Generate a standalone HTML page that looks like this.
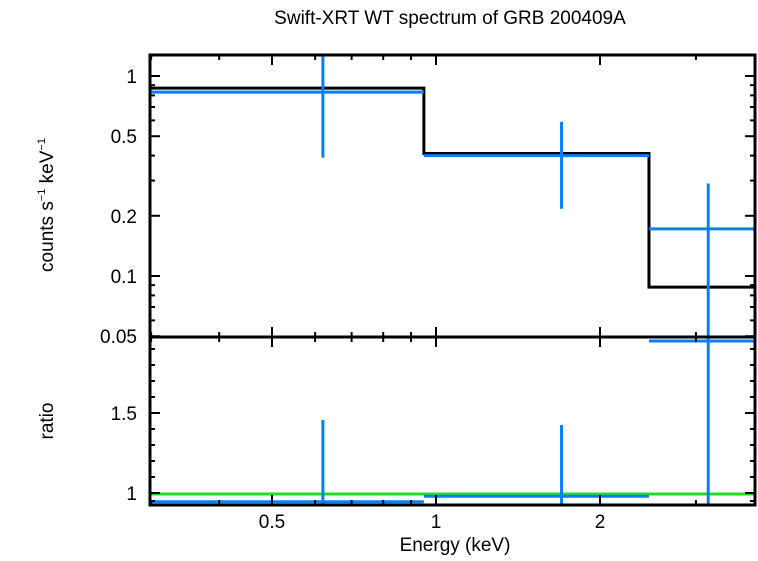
<!DOCTYPE html>
<html><head><meta charset="utf-8"><style>
body{margin:0;background:#fff;}
svg text{font-family:"Liberation Sans",sans-serif;}
</style></head><body>
<svg id="c" width="758" height="556" xmlns="http://www.w3.org/2000/svg"></svg>
<script>
const binLo=[0.298,0.95,2.46];
const binHi=[0.95,2.46,3.85];
const ptE=[0.62,1.70,3.16];
const dataVal=[0.83,0.40,0.172];
const errLo=[0.39,0.217,0.04];
const errHi=[1.5,0.59,0.29];
const modelVal=[0.87,0.41,0.088];
const ratioVal=[0.945,0.98,1.95];
const ratioLo=[0.9,0.9,0.9];
const ratioHi=[1.456,1.425,2.1];
const xTicks=[0.5,1,2];
const yTicks=[0.05,0.1,0.2,0.5,1];
const rTicks=[1,1.5];

const L=150,R=755,T=55,M=337,B=505;
const FS=19;
const X=e=>436+544.8*Math.log10(e);
const Y=v=>76-200*Math.log10(v);
const YR=v=>493-160*(v-1);
const svg=document.getElementById('c');
const NS='http://www.w3.org/2000/svg';
function el(t,a,p){const e=document.createElementNS(NS,t);for(const k in a)e.setAttribute(k,a[k]);(p||svg).appendChild(e);return e;}
const defs=el('defs',{});
const cp1=el('clipPath',{id:'cp1'},defs);el('rect',{x:L,y:T,width:R-L,height:M-T},cp1);
const cp2=el('clipPath',{id:'cp2'},defs);el('rect',{x:L,y:M,width:R-L,height:B-M},cp2);

let t=el('text',{x:450,y:24,'font-size':FS,'text-anchor':'middle'});t.textContent='Swift-XRT WT spectrum of GRB 200409A';


const g1=el('g',{'clip-path':'url(#cp1)'});

let d='';
for(let i=0;i<binLo.length;i++){d+=(i?'L':'M')+X(binLo[i])+' '+Y(modelVal[i])+'L'+X(binHi[i])+' '+Y(modelVal[i]);}
let mp=el('path',{d:d,fill:'none',stroke:'#000','stroke-width':3},g1);

for(let i=0;i<binLo.length;i++){
 let h=el('line',{x1:X(binLo[i]),x2:X(binHi[i]),y1:Y(dataVal[i]),y2:Y(dataVal[i]),stroke:'#0a7ff5','stroke-width':3},g1);
 
 let v=el('line',{x1:X(ptE[i]),x2:X(ptE[i]),y1:Y(errHi[i]),y2:Y(errLo[i]),stroke:'#0a7ff5','stroke-width':3},g1);
 
}
const g2=el('g',{'clip-path':'url(#cp2)'});

let gl=el('line',{x1:L,x2:R,y1:YR(1)+1,y2:YR(1)+1,stroke:'#22dd22','stroke-width':3},g2);

for(let i=0;i<binLo.length;i++){
 let h=el('line',{x1:X(binLo[i]),x2:X(binHi[i]),y1:YR(ratioVal[i]),y2:YR(ratioVal[i]),stroke:'#0a7ff5','stroke-width':3},g2);
 
 let v=el('line',{x1:X(ptE[i]),x2:X(ptE[i]),y1:YR(ratioHi[i]),y2:YR(ratioLo[i]),stroke:'#0a7ff5','stroke-width':3},g2);
 
}
el('rect',{x:L,y:T,width:R-L,height:M-T,fill:'none',stroke:'#000','stroke-width':3});
el('rect',{x:L,y:M,width:R-L,height:B-M,fill:'none',stroke:'#000','stroke-width':3});
const minorX=[0.3,0.4,0.6,0.7,0.8,0.9,3];
for(const e of minorX){const x=X(e);for(const [y0,s] of [[T,1],[M,-1],[M,1],[B,-1]])el('line',{x1:x,x2:x,y1:y0,y2:y0+s*5,stroke:'#000','stroke-width':2});}
for(const e of xTicks){const x=X(e);for(const [y0,s] of [[T,1],[M,-1],[M,1],[B,-1]])el('line',{x1:x,x2:x,y1:y0,y2:y0+s*10,stroke:'#000','stroke-width':2});
 let tt=el('text',{x:x,y:528,'font-size':FS,'text-anchor':'middle'});tt.textContent=e;
 }
const minorY=[0.06,0.07,0.08,0.09,0.3,0.4,0.6,0.7,0.8,0.9];
for(const v of minorY){const y=Y(v);el('line',{x1:L,x2:L+5,y1:y,y2:y,stroke:'#000','stroke-width':2});el('line',{x1:R,x2:R-5,y1:y,y2:y,stroke:'#000','stroke-width':2});}
for(const v of yTicks){const y=Y(v);el('line',{x1:L,x2:L+10,y1:y,y2:y,stroke:'#000','stroke-width':2});el('line',{x1:R,x2:R-10,y1:y,y2:y,stroke:'#000','stroke-width':2});
 let tt=el('text',{x:137,y:y+7,'font-size':FS,'text-anchor':'end'});tt.textContent=v;
 }
for(const v of rTicks){const y=YR(v);el('line',{x1:L,x2:L+10,y1:y,y2:y,stroke:'#000','stroke-width':2});el('line',{x1:R,x2:R-10,y1:y,y2:y,stroke:'#000','stroke-width':2});
 let tt=el('text',{x:137,y:y+7,'font-size':FS,'text-anchor':'end'});tt.textContent=v;
 }
for(const v of [1.1,1.2,1.3,1.4,1.6,1.7,1.8,1.9,0.95]){const y=YR(v);if(y<M||y>B)continue;el('line',{x1:L,x2:L+5,y1:y,y2:y,stroke:'#000','stroke-width':2});el('line',{x1:R,x2:R-5,y1:y,y2:y,stroke:'#000','stroke-width':2});}
let xt=el('text',{x:455,y:551,'font-size':FS,'text-anchor':'middle'});xt.textContent='Energy (keV)';

let yt=el('text',{transform:'translate(53,205) rotate(-90)','font-size':FS,'text-anchor':'middle'});
yt.innerHTML='counts s<tspan font-size="11" dy="-8">−1</tspan><tspan dy="8"> keV</tspan><tspan font-size="11" dy="-8">−1</tspan>';

let rt=el('text',{transform:'translate(53,421) rotate(-90)','font-size':FS,'text-anchor':'middle'});rt.textContent='ratio';

</script>
</body></html>
